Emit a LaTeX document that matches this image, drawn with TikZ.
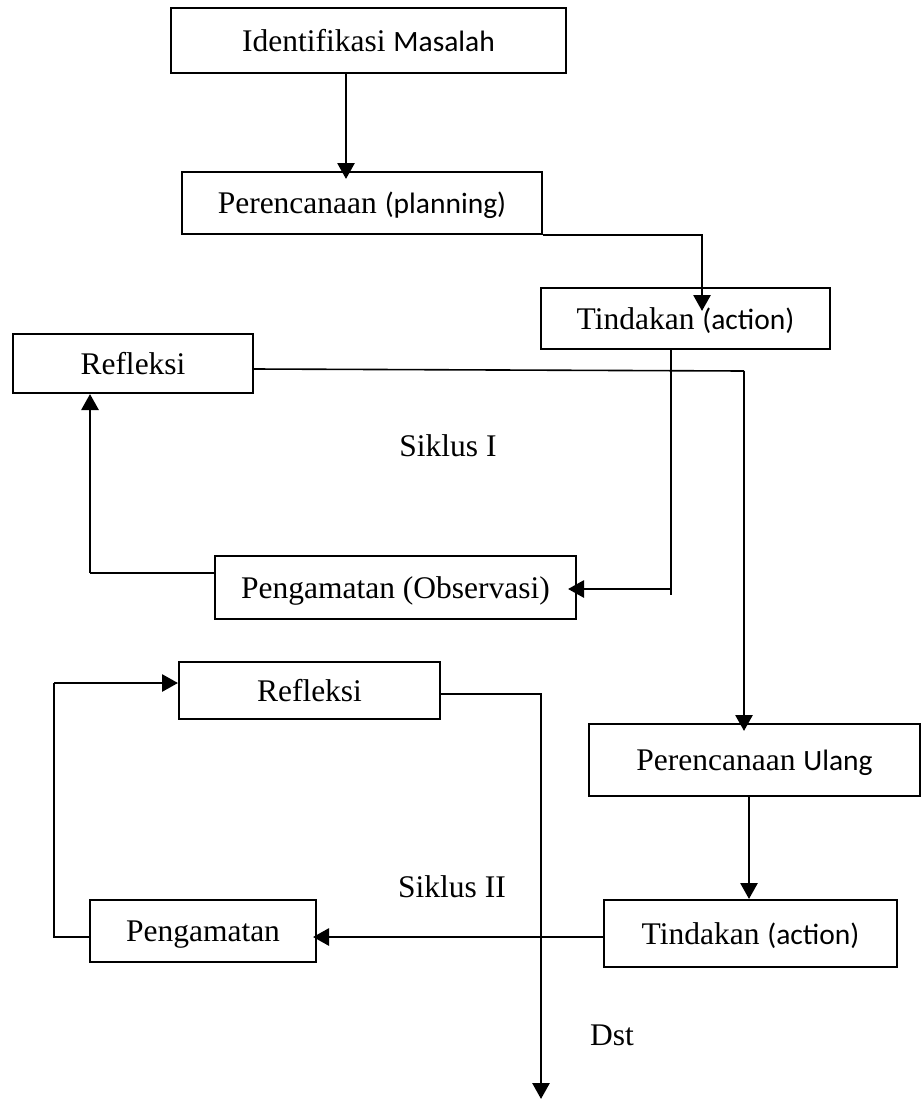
\documentclass[tikz,border=0pt]{standalone}
\usepackage{fontspec}
\setmainfont{Liberation Serif}
\newfontfamily\calfont{Carlito}
\usetikzlibrary{arrows.meta,calc}
\newcommand{\sansbit}[1]{{\calfont\fontsize{29.5}{34}\selectfont #1}}
\begin{document}
\begin{tikzpicture}[x=1pt,y=-1pt,
  box/.style={draw, line width=2pt, inner sep=0pt, text height=21pt, text depth=0pt, font=\fontsize{31.5}{36}\selectfont},
  lbl/.style={inner sep=0pt, font=\fontsize{31.5}{36}\selectfont},
  arr/.style={line width=2.8pt, -{Triangle[length=16pt,width=17pt]}},
  lnB/.style={line width=1.6pt}]
\useasboundingbox (0,0) rectangle (922,1100);

% boxes
\node[box, minimum width=395pt, minimum height=65pt] (idm) at (368.5,40.5) {Identifikasi \sansbit{Masalah}};
\node[box, minimum width=360pt, minimum height=62pt] (plan) at (362,203) {Perencanaan \sansbit{(planning)}};
\node[box, minimum width=289pt, minimum height=61pt] (act1) at (685.5,318.5) {Tindakan \sansbit{(action)}};
\node[box, minimum width=240pt, minimum height=59pt] (ref1) at (133,363.5) {Refleksi};
\node[box, minimum width=361pt, minimum height=63pt] (obs1) at (395.5,587.5) {Pengamatan (Observasi)};
\node[box, minimum width=261pt, minimum height=57pt] (ref2) at (309.5,690.5) {Refleksi};
\node[box, minimum width=331pt, minimum height=72pt] (plan2) at (754.5,760) {Perencanaan \sansbit{Ulang}};
\node[box, minimum width=293pt, minimum height=67pt] (act2) at (750.5,933.5) {Tindakan \sansbit{(action)}};
\node[box, minimum width=226pt, minimum height=62pt] (obs2) at (203,931) {Pengamatan};

% labels
\node[lbl] (s1) at (448,446) {Siklus I};
\node[lbl] (s2) at (452,887) {Siklus II};
\node[lbl] (dst) at (612,1035) {Dst};

% helper coordinates
\coordinate (xa) at (346,0);
\coordinate (xb) at (702,0);
\coordinate (xc) at (671,0);
\coordinate (p3) at (671,595);
\coordinate (p3b) at (671,589);
\coordinate (p4) at (90,573);
\coordinate (p5a) at (253,369);
\coordinate (p5b) at (744,371);
\coordinate (xf) at (749,0);
\coordinate (p7) at (0,937);
\coordinate (p8a) at (54,937);
\coordinate (p8b) at (54,683);
\coordinate (p9a) at (541,694);
\coordinate (endp) at (541,1099);

% connectors
\draw[arr] (idm.south -| xa) -- ($(plan.north -| xa)+(0,8)$);
\draw[arr] (plan.south east) -| ($(act1.north -| xb)+(0,24)$);
\draw[lnB] (act1.south -| xc) -- (p3);
\draw[arr] (p3b) -- ($(obs1.east |- p3b)+(-9,0)$);
\draw[lnB] (obs1.west |- p4) -- (p4);
\draw[arr] (p4) -- (ref1.south -| p4);
\draw[lnB] (ref1.east |- p5a) -- (p5b);
\draw[arr] (p5b) -- ($(plan2.north -| p5b)+(0,8)$);
\draw[arr] (plan2.south -| xf) -- (act2.north -| xf);
\draw[arr] (act2.west |- p7) -- ($(obs2.east |- p7)+(-4,0)$);
\draw[lnB] (obs2.west |- p8a) -- (p8a) -- (p8b);
\draw[arr] (p8b) -- (ref2.west |- p8b);
\draw[arr] (ref2.east |- p9a) -- (p9a) -- (endp);
\end{tikzpicture}
\end{document}
